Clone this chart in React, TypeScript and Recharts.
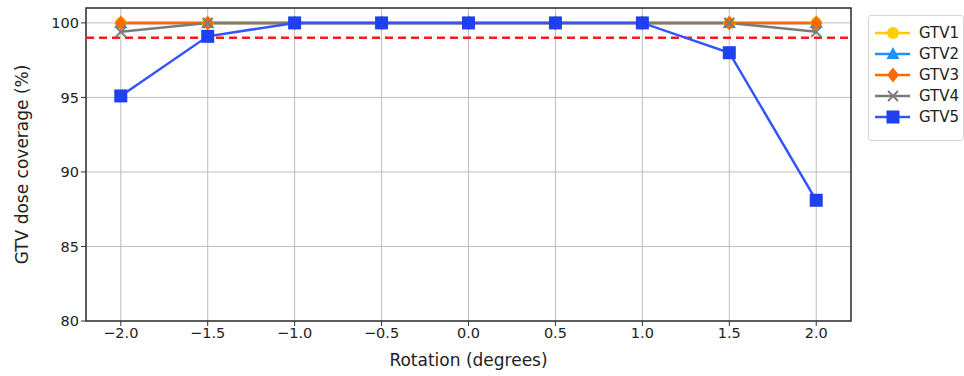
import React from 'react';
import { LineChart, Line, XAxis, YAxis, CartesianGrid, ReferenceLine, ReferenceArea } from 'recharts';

const rotations = [-2.0, -1.5, -1.0, -0.5, 0.0, 0.5, 1.0, 1.5, 2.0];
const gtv1 = [100, 100, 100, 100, 100, 100, 100, 100, 100];
const gtv2 = [100, 100, 100, 100, 100, 100, 100, 100, 100];
const gtv3 = [100, 100, 100, 100, 100, 100, 100, 100, 100];
const gtv4 = [99.4, 100, 100, 100, 100, 100, 100, 100, 99.4];
const gtv5 = [95.1, 99.1, 100, 100, 100, 100, 100, 98.0, 88.1];
const yTicks = [80, 85, 90, 95, 100];
const threshold = 99;

const data = rotations.map((r, i) => ({
  rotation: r,
  GTV1: gtv1[i],
  GTV2: gtv2[i],
  GTV3: gtv3[i],
  GTV4: gtv4[i],
  GTV5: gtv5[i],
}));

type Marker = 'circle' | 'triangle' | 'diamond' | 'x' | 'square';

const seriesList: { key: string; color: string; marker: Marker; markerColor: string }[] = [
  { key: 'GTV1', color: '#ffcc00', marker: 'circle', markerColor: '#ffcc00' },
  { key: 'GTV2', color: '#1e90ff', marker: 'triangle', markerColor: '#1e90ff' },
  { key: 'GTV3', color: '#ff6a00', marker: 'diamond', markerColor: '#ff6a00' },
  { key: 'GTV4', color: '#7a7a7a', marker: 'x', markerColor: '#7a7a7a' },
  { key: 'GTV5', color: '#3355ff', marker: 'square', markerColor: '#1f40ee' },
];

const drawMarker = (type: Marker, cx: number, cy: number, color: string, key?: string | number) => {
  switch (type) {
    case 'circle':
      return <circle key={key} cx={cx} cy={cy} r={6} fill={color} />;
    case 'triangle':
      return <polygon key={key} points={`${cx},${cy - 7} ${cx - 6.5},${cy + 5} ${cx + 6.5},${cy + 5}`} fill={color} />;
    case 'diamond':
      return <polygon key={key} points={`${cx},${cy - 7.5} ${cx + 6},${cy} ${cx},${cy + 7.5} ${cx - 6},${cy}`} fill={color} />;
    case 'x':
      return (
        <g key={key}>
          <line x1={cx - 5} y1={cy - 5} x2={cx + 5} y2={cy + 5} stroke={color} strokeWidth={2} />
          <line x1={cx - 5} y1={cy + 5} x2={cx + 5} y2={cy - 5} stroke={color} strokeWidth={2} />
        </g>
      );
    default:
      return <rect key={key} x={cx - 6.5} y={cy - 6.5} width={13} height={13} fill={color} />;
  }
};

const fmt = (v: number) => {
  const s = v.toFixed(1);
  return v < 0 ? '\u2212' + s.slice(1) : s;
};

const LegendBox = () => (
  <div
    style={{
      position: 'absolute',
      left: 868,
      top: 15,
      width: 86,
      background: '#fff',
      border: '1px solid #d5d5d5',
      borderRadius: 3,
      padding: '6px 4px 13px 4px',
      fontFamily: 'DejaVu Sans, sans-serif',
      fontSize: 15,
      color: '#222',
    }}
  >
    {seriesList.map((s) => (
      <div key={s.key} style={{ display: 'flex', alignItems: 'center', height: 21 }}>
        <svg width={40} height={18} style={{ marginRight: 9 }}>
          <line x1={2} y1={9} x2={38} y2={9} stroke={s.color} strokeWidth={2.5} />
          {drawMarker(s.marker, 20, 9, s.markerColor)}
        </svg>
        <span>{s.key}</span>
      </div>
    ))}
  </div>
);

export default function App() {
  return (
    <div style={{ position: 'absolute', left: 0, top: 0, width: 964, height: 376, background: '#fff' }}>
      <LineChart width={964} height={376} data={data} margin={{ top: 8, right: 113, bottom: 0, left: 0 }}>
        <CartesianGrid stroke="#bdbdbd" strokeWidth={1} />
        <XAxis
          dataKey="rotation"
          type="number"
          domain={[-2.2, 2.2]}
          ticks={rotations}
          tickFormatter={fmt}
          height={55}
          axisLine={false}
          tickLine={{ stroke: '#333' }}
          tickSize={5}
          tick={{ fill: '#222', fontSize: 14.5, fontFamily: 'DejaVu Sans, sans-serif' }}
          label={{
            value: 'Rotation (degrees)',
            position: 'insideBottom',
            offset: 10,
            fill: '#222',
            fontSize: 17,
            fontFamily: 'DejaVu Sans, sans-serif',
          }}
        />
        <YAxis
          type="number"
          domain={[80, 101]}
          ticks={yTicks}
          width={86}
          axisLine={false}
          tickLine={{ stroke: '#333' }}
          tickSize={5}
          allowDataOverflow
          tick={{ fill: '#222', fontSize: 14.5, fontFamily: 'DejaVu Sans, sans-serif' }}
          label={{
            value: 'GTV dose coverage (%)',
            angle: -90,
            position: 'center',
            dx: -21,
            fill: '#222',
            fontSize: 17,
            fontFamily: 'DejaVu Sans, sans-serif',
          }}
        />
        <ReferenceLine y={threshold} stroke="#ff1a1a" strokeWidth={2.5} strokeDasharray="8 5" />
        {seriesList.map((s) => (
          <Line
            key={s.key}
            dataKey={s.key}
            stroke={s.color}
            strokeWidth={2.5}
            isAnimationActive={false}
            dot={(p: any) => drawMarker(s.marker, p.cx, p.cy, s.markerColor, `${s.key}-${p.index}`)}
            activeDot={false}
          />
        ))}
        <ReferenceArea x1={-2.2} x2={2.2} y1={80} y2={101} fill="none" stroke="#333" strokeWidth={1.5} />
      </LineChart>
      <LegendBox />
    </div>
  );
}
